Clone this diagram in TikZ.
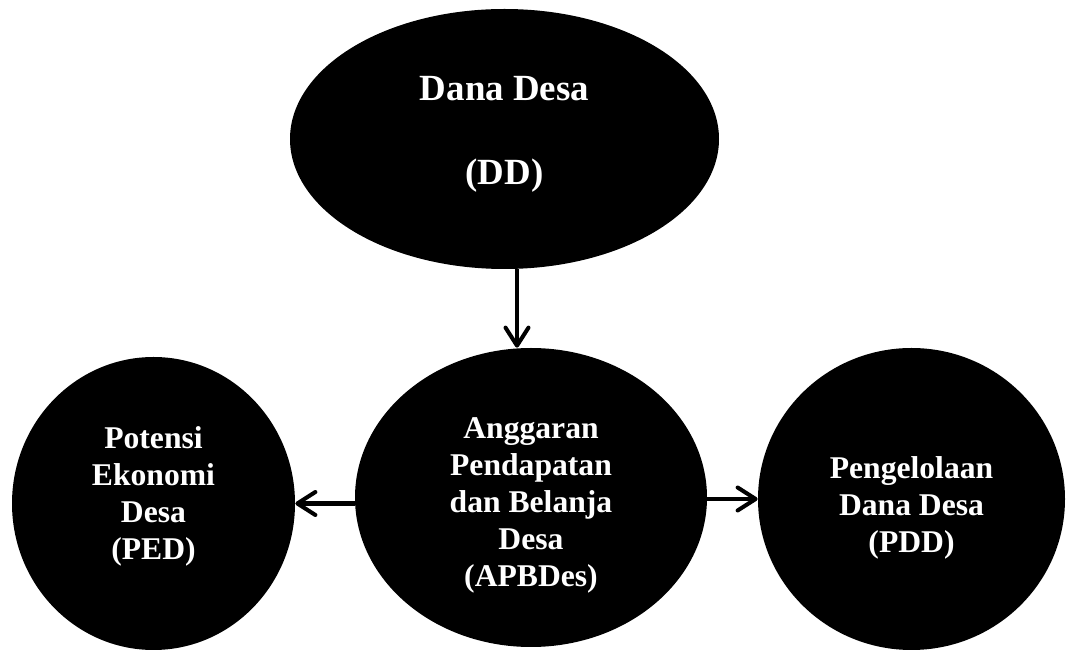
\documentclass[tikz,border=0pt]{standalone}
\usepackage{fontspec}
\setmainfont{Liberation Serif}
\usetikzlibrary{shapes.geometric,arrows.meta}
\tikzset{
    >={Straight Barb[length=0.36cm,width=0.46cm,line cap=round,line join=round]},
    link/.style={draw,->,line width=2.3pt}
}

\begin{document}
\begin{tikzpicture}[bubble/.style={ellipse,fill=black,text=white,inner sep=0pt,
                        align=center,font=\bfseries\fontsize{18}{21}\selectfont}]

\useasboundingbox (0,0) rectangle (21.32,-13);

% Nodes
\node[bubble,minimum width=8.58cm,minimum height=5.2cm,
      font=\bfseries\fontsize{21}{25}\selectfont] (dd) at (10.09cm,-2.78cm)
      {Dana Desa\\[23pt](DD)\\[-15pt]};
\node[bubble,minimum width=7.04cm,minimum height=5.98cm] (apb) at (10.62cm,-9.95cm)
      {\rule{0pt}{21pt}Anggaran\\Pendapatan\\dan Belanja\\Desa\\(APBDes)};
\node[bubble,minimum width=5.66cm,minimum height=5.86cm] (ped) at (3.07cm,-10.07cm)
      {Potensi\\Ekonomi\\Desa\\(PED)\\[-9pt]};
\node[bubble,minimum width=6.14cm,minimum height=6.04cm] (pdd) at (18.23cm,-9.98cm)
      {\rule{0pt}{23pt}Pengelolaan\\Dana Desa\\(PDD)};

% Arrows
\path[link] ([xshift=0.25cm]dd.south) -- ([xshift=0.25cm]dd.south |- apb.north);
\path[link] (apb.west |- ped.east) -- (ped.east);
\path[link] (apb.east |- pdd.west) -- (pdd.west);

\end{tikzpicture}
\end{document}
